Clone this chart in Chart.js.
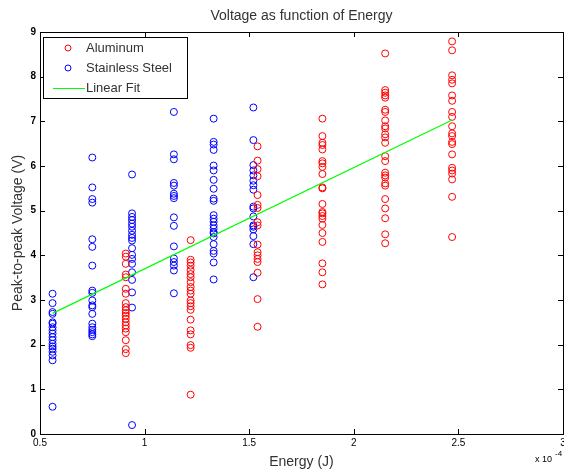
<!DOCTYPE html>
<html lang="en">
<head>
<meta charset="UTF-8">
<script src="https://cdn.jsdelivr.net/npm/chart.js"></script>
<title>Voltage as function of Energy</title>
<style>
  html, body { margin: 0; padding: 0; background: #fff; }
  #wrap { width: 564px; height: 472px; }
</style>
</head>
<body>
<div id="wrap"><canvas id="chart" width="564" height="472"></canvas></div>
<script>
// energy columns (x 10^-4 J)
const alX = [0.91, 1.22, 1.54, 1.85, 2.15, 2.47];
const ssX = [0.56, 0.75, 0.94, 1.14, 1.33, 1.52];

// aluminum peak-to-peak voltages, one list per energy
const al091 = [4.04, 3.97, 3.81, 3.57, 3.51, 3.25, 3.14, 2.93, 2.84, 2.77, 2.71, 2.65, 2.58, 2.5, 2.43, 2.36, 2.28, 2.1, 1.9, 1.81];
const al122 = [4.34, 3.9, 3.84, 3.77, 3.67, 3.58, 3.51, 3.4, 3.29, 3.21, 3.14, 2.99, 2.93, 2.86, 2.78, 2.56, 2.32, 2.23, 1.99, 1.93, 0.88];
const al154 = [6.44, 6.12, 5.93, 5.77, 5.35, 5.13, 5.06, 4.74, 4.67, 4.24, 4.07, 4.0, 3.92, 3.85, 3.61, 3.02, 2.4];
const al185 = [7.06, 6.67, 6.52, 6.47, 6.37, 6.11, 6.06, 5.98, 5.82, 5.52, 5.5, 5.15, 4.97, 4.94, 4.88, 4.82, 4.68, 4.5, 4.3, 3.82, 3.62, 3.35];
const al215 = [8.52, 7.7, 7.64, 7.58, 7.53, 7.26, 7.21, 7.02, 6.89, 6.84, 6.71, 6.64, 6.52, 6.22, 6.11, 5.85, 5.79, 5.74, 5.61, 5.56, 5.26, 5.05, 4.83, 4.47, 4.27];
const al247 = [8.79, 8.59, 8.03, 7.93, 7.85, 7.58, 7.46, 7.21, 7.1, 6.89, 6.73, 6.67, 6.54, 6.49, 6.26, 5.96, 5.9, 5.83, 5.7, 5.31, 4.41];

// stainless steel peak-to-peak voltages
const ss056 = [3.14, 2.93, 2.73, 2.69, 2.5, 2.47, 2.39, 2.32, 2.25, 2.17, 2.1, 2.02, 1.96, 1.91, 1.84, 1.76, 1.65, 0.61];
const ss075 = [6.19, 5.52, 5.26, 5.18, 4.36, 4.19, 3.77, 3.21, 3.16, 2.99, 2.88, 2.84, 2.69, 2.47, 2.39, 2.33, 2.28, 2.23, 2.19];
const ss094 = [5.81, 4.94, 4.86, 4.79, 4.71, 4.64, 4.55, 4.46, 4.39, 4.33, 4.16, 4.01, 3.92, 3.81, 3.62, 3.45, 3.17, 2.83, 0.2];
const ss114 = [7.21, 6.26, 6.15, 5.62, 5.56, 5.38, 5.33, 5.28, 4.85, 4.66, 4.2, 3.93, 3.85, 3.77, 3.66, 3.15];
const ss133 = [7.06, 6.54, 6.48, 6.36, 6.01, 5.9, 5.69, 5.49, 5.27, 5.22, 4.9, 4.82, 4.75, 4.67, 4.6, 4.52, 4.49, 4.41, 4.25, 4.1, 4.04, 3.84, 3.46];
const ss152 = [7.31, 6.58, 6.02, 5.9, 5.79, 5.67, 5.57, 5.47, 5.09, 5.05, 4.87, 4.67, 4.64, 4.58, 4.43, 4.25, 3.51];

// linear fit end points
const fitX = [0.56, 2.47];
const fitY = [2.7, 7.03];

const xTicks = [0.5, 1, 1.5, 2, 2.5, 3];
const xTickLabels = ['0.5', '1', '1.5', '2', '2.5', '3'];
const yTicks = [0, 1, 2, 3, 4, 5, 6, 7, 8, 9];

function toPoints(xs, cols) {
  const pts = [];
  cols.forEach((col, i) => col.forEach(v => pts.push({ x: xs[i], y: v })));
  return pts;
}

const alPoints = toPoints(alX, [al091, al122, al154, al185, al215, al247]);
const ssPoints = toPoints(ssX, [ss056, ss075, ss094, ss114, ss133, ss152]);
const fitPoints = fitX.map((x, i) => ({ x: x, y: fitY[i] }));

const FONT = '"Liberation Sans", Arial, Helvetica, sans-serif';

// box, inward ticks, titles and legend
const matlabLook = {
  id: 'matlabLook',
  afterDraw(chart) {
    const ctx = chart.ctx;
    const a = chart.chartArea;
    const xs = chart.scales.x, ys = chart.scales.y;
    ctx.save();
    ctx.strokeStyle = '#000';
    ctx.lineWidth = 1;
    ctx.strokeRect(Math.round(a.left) + 0.5, Math.round(a.top) + 0.5,
                   Math.round(a.right - a.left), Math.round(a.bottom - a.top));
    ctx.beginPath();
    xTicks.forEach(t => {
      const px = Math.round(xs.getPixelForValue(t)) + 0.5;
      ctx.moveTo(px, a.bottom); ctx.lineTo(px, a.bottom - 5);
      ctx.moveTo(px, a.top); ctx.lineTo(px, a.top + 5);
    });
    yTicks.forEach(t => {
      const py = Math.round(ys.getPixelForValue(t)) + 0.5;
      ctx.moveTo(a.left, py); ctx.lineTo(a.left + 5, py);
      ctx.moveTo(a.right, py); ctx.lineTo(a.right - 5, py);
    });
    ctx.stroke();

    // title and axis labels
    ctx.fillStyle = '#333';
    ctx.font = '14px ' + FONT;
    ctx.textAlign = 'center';
    ctx.textBaseline = 'middle';
    const cx = (a.left + a.right) / 2;
    ctx.fillText('Voltage as function of Energy', cx, 16);
    ctx.fillText('Energy (J)', cx, 462);
    ctx.save();
    ctx.translate(18, (a.top + a.bottom) / 2);
    ctx.rotate(-Math.PI / 2);
    ctx.fillText('Peak-to-peak Voltage (V)', 0, 0);
    ctx.restore();

    // exponent label
    ctx.fillStyle = '#000';
    ctx.textAlign = 'left';
    ctx.font = '9px ' + FONT;
    ctx.fillText('x 10', 535, 460);
    ctx.font = '8px ' + FONT;
    ctx.fillText('-4', 555, 454);

    // legend
    ctx.fillStyle = '#fff';
    ctx.fillRect(43.5, 37.5, 144, 61);
    ctx.strokeStyle = '#000';
    ctx.strokeRect(43.5, 37.5, 144, 61);
    ctx.lineWidth = 1;
    ctx.strokeStyle = 'rgb(255,0,0)';
    ctx.beginPath(); ctx.arc(68, 48, 3, 0, Math.PI * 2); ctx.stroke();
    ctx.strokeStyle = 'rgb(0,0,255)';
    ctx.beginPath(); ctx.arc(68, 68, 3, 0, Math.PI * 2); ctx.stroke();
    ctx.strokeStyle = 'rgb(0,255,0)';
    ctx.beginPath(); ctx.moveTo(53, 88.5); ctx.lineTo(85, 88.5); ctx.stroke();
    ctx.fillStyle = '#333';
    ctx.font = '13px ' + FONT;
    ctx.fillText('Aluminum', 86, 48);
    ctx.fillText('Stainless Steel', 86, 68);
    ctx.fillText('Linear Fit', 86, 88);
    ctx.restore();
  }
};

new Chart(document.getElementById('chart').getContext('2d'), {
  type: 'scatter',
  data: {
    datasets: [
      {
        label: 'Aluminum',
        data: alPoints,
        borderColor: 'rgb(255,0,0)',
        backgroundColor: 'rgba(0,0,0,0)',
        pointRadius: 3.5,
        pointBorderWidth: 1,
        order: 2
      },
      {
        label: 'Stainless Steel',
        data: ssPoints,
        borderColor: 'rgb(0,0,255)',
        backgroundColor: 'rgba(0,0,0,0)',
        pointRadius: 3.5,
        pointBorderWidth: 1,
        order: 3
      },
      {
        label: 'Linear Fit',
        data: fitPoints,
        showLine: true,
        borderColor: 'rgb(0,255,0)',
        borderWidth: 1.2,
        pointRadius: 0,
        order: 1
      }
    ]
  },
  options: {
    responsive: false,
    animation: false,
    layout: { autoPadding: false, padding: { top: 32, right: 1, left: 0, bottom: 0 } },
    plugins: {
      legend: { display: false },
      title: { display: false },
      tooltip: { enabled: false }
    },
    scales: {
      x: {
        type: 'linear',
        min: 0.5,
        max: 3,
        afterBuildTicks: s => { s.ticks = xTicks.map(v => ({ value: v })); },
        afterFit: s => { s.height = 38; s.paddingRight = 0; },
        grid: { display: false, drawTicks: false },
        border: { display: false },
        ticks: {
          color: '#000',
          padding: 3,
          maxRotation: 0,
          font: { family: FONT, size: 10 },
          callback: (v) => xTickLabels[xTicks.indexOf(v)]
        }
      },
      y: {
        min: 0,
        max: 9,
        afterBuildTicks: s => { s.ticks = yTicks.map(v => ({ value: v })); },
        afterFit: s => { s.width = 40; },
        grid: { display: false, drawTicks: false },
        border: { display: false },
        ticks: {
          color: '#000',
          padding: 4,
          font: { family: FONT, size: 10, weight: 'bold' }
        }
      }
    }
  },
  plugins: [matlabLook]
});
</script>
</body>
</html>
